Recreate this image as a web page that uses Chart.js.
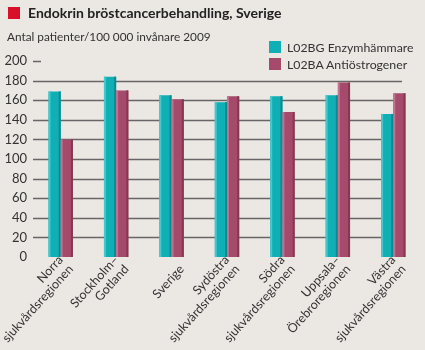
<!DOCTYPE html>
<html>
<head>
<meta charset="utf-8">
<script src="https://cdn.jsdelivr.net/npm/chart.js@4"></script>
<style>
  body { margin: 0; background: #ebe7e3; font-family: Lato, "Open Sans", sans-serif; color: #333; }
  #wrap { position: relative; width: 425px; height: 350px; }
  #title { position: absolute; left: 8px; top: 4px; font-size: 14px; font-weight: bold; color: #222; white-space: nowrap; }
  #title span { display: inline-block; width: 12px; height: 12px; background: #d9102a; margin-right: 8px; vertical-align: -1px; }
  #sub { position: absolute; left: 7px; top: 29px; font-size: 11.8px; white-space: nowrap; }
  #legend { position: absolute; left: 269px; top: 41px; font-size: 12.3px; }
  #legend div { height: 17px; line-height: 13px; white-space: nowrap; }
  #legend i { display: inline-block; width: 12px; height: 12px; margin-right: 6px; vertical-align: -1px; }
  canvas { position: absolute; left: 0; top: 0; }
</style>
</head>
<body>
<div id="wrap">
  <canvas id="chart" width="425" height="350"></canvas>
  <div id="title"><span></span>Endokrin bröstcancerbehandling, Sverige</div>
  <div id="sub">Antal patienter/100 000 invånare 2009</div>
  <div id="legend"></div>
</div>
<script>
// data
let regions = [
  ["Norra", "sjukvårdsregionen"],
  ["Stockholm–", "Gotland"],
  ["", "Sverige"],
  ["Sydöstra", "sjukvårdsregionen"],
  ["Södra", "sjukvårdsregionen"],
  ["Uppsala–", "Örebroregionen"],
  ["Västra", "sjukvårdsregionen"],
];
let enzymValues = [169, 184, 165, 158, 164, 165, 146];
let antiValues = [120, 170, 161, 164, 148, 178, 167];
let seriesNames = ["L02BG Enzymhämmare", "L02BA Antiöstrogener"];
let seriesColors = ["#10afb5", "#a64a6c"];
let edgeLight = ["#45c8cc", "#c2718f"];
let edgeDark = ["#0b8a90", "#843853"];

// legend
let legend = document.querySelector("#legend");
seriesNames.forEach((name, i) => {
  legend.innerHTML += `<div><i style="background:${seriesColors[i]}"></i>${name}</div>`;
});

// gridlines drawn under the bars, stopping short of the right edge
let gridPlugin = {
  id: "grid",
  beforeDatasetsDraw(chart) {
    let ctx = chart.ctx;
    let y = chart.scales.y;
    let left = chart.chartArea.left;
    ctx.save();
    ctx.strokeStyle = "#666";
    ctx.lineWidth = 1.5;
    for (let v = 20; v <= 200; v += 20) {
      let py = Math.round(y.getPixelForValue(v)) + 0.5;
      ctx.beginPath();
      ctx.moveTo(left, py);
      ctx.lineTo(v === 200 ? left + 8 : 402, py);
      ctx.stroke();
    }
    ctx.restore();
  },
  // light and dark edges on each bar
  afterDatasetsDraw(chart) {
    let ctx = chart.ctx;
    ctx.save();
    chart.data.datasets.forEach((ds, i) => {
      chart.getDatasetMeta(i).data.forEach((bar) => {
        let w = bar.width;
        let x0 = bar.x - w / 2;
        let h = bar.base - bar.y;
        ctx.fillStyle = edgeLight[i];
        ctx.fillRect(x0, bar.y, 2, h);
        ctx.fillStyle = edgeDark[i];
        ctx.fillRect(x0 + w - 2, bar.y, 2, h);
      });
    });
    ctx.restore();
  },
};

new Chart(document.querySelector("#chart"), {
  type: "bar",
  data: {
    labels: regions,
    datasets: [
      { label: seriesNames[0], data: enzymValues, backgroundColor: seriesColors[0] },
      { label: seriesNames[1], data: antiValues, backgroundColor: seriesColors[1] },
    ],
  },
  options: {
    responsive: false,
    animation: false,
    layout: { padding: { top: 61, right: 4, left: 0, bottom: 0 } },
    plugins: { legend: { display: false }, tooltip: { enabled: false } },
    datasets: { bar: { categoryPercentage: 0.44, barPercentage: 1 } },
    scales: {
      y: {
        min: 0,
        max: 200,
        ticks: { stepSize: 20, color: "#333", font: { family: "Lato", size: 13 }, padding: 6 },
        grid: { display: false, drawTicks: false },
        border: { display: false },
        afterFit: (s) => { s.width = 33; s.paddingTop = 0; s.paddingBottom = 0; },
      },
      x: {
        ticks: {
          minRotation: 48,
          maxRotation: 48,
          color: "#333",
          font: { family: "Lato", size: 12.5, lineHeight: 1.1 },
          padding: -4,
        },
        grid: { display: false, drawTicks: false },
        border: { display: false },
        afterFit: (s) => { s.height = 93; s.paddingLeft = 0; s.paddingRight = 0; },
      },
    },
  },
  plugins: [gridPlugin],
});
</script>
</body>
</html>
